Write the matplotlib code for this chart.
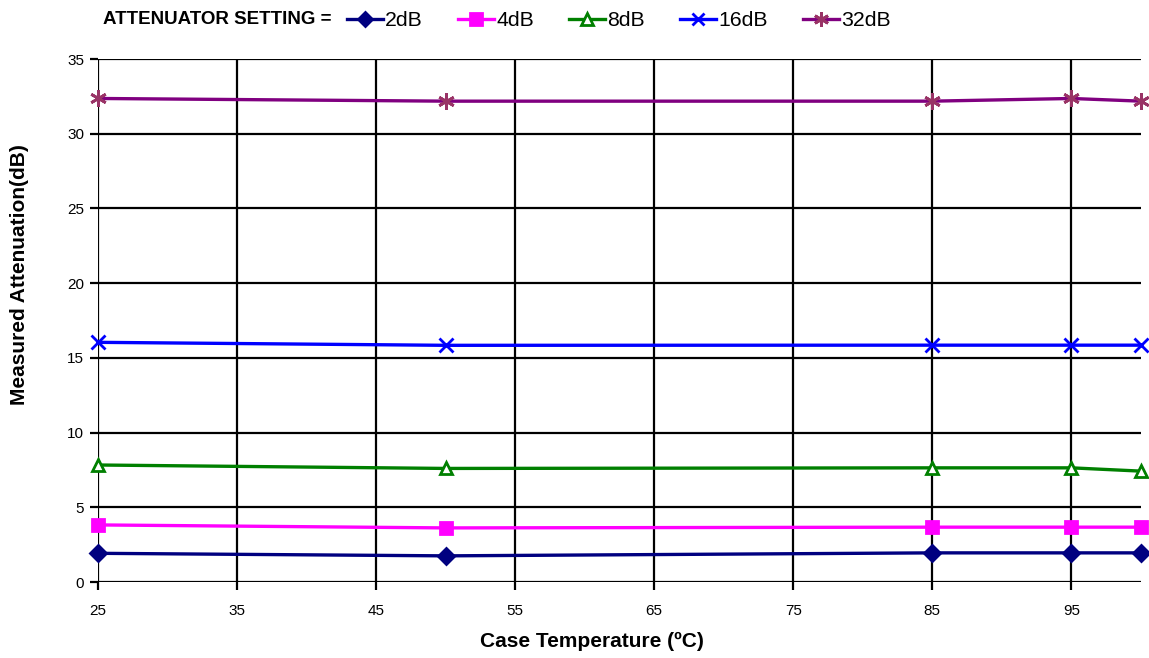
import matplotlib.pyplot as plt
from matplotlib.lines import Line2D

plt.rcParams['font.family'] = ['Liberation Sans', 'DejaVu Sans']

# Case temperature (deg C) and measured attenuation (dB) per attenuator setting
temps = [25, 50, 85, 95, 100]
att_2db = [1.92, 1.75, 1.95, 1.95, 1.95]
att_4db = [3.82, 3.62, 3.67, 3.67, 3.67]
att_8db = [7.83, 7.60, 7.64, 7.64, 7.42]
att_16db = [16.04, 15.84, 15.85, 15.85, 15.85]
att_32db = [32.36, 32.18, 32.18, 32.36, 32.18]

series_labels = ['2dB', '4dB', '8dB', '16dB', '32dB']
x_ticks = [25, 35, 45, 55, 65, 75, 85, 95]
y_ticks = [0, 5, 10, 15, 20, 25, 30, 35]

fig = plt.figure(figsize=(11.49, 6.58), dpi=100)
ax = fig.add_axes([0.0853, 0.1155, 0.9077, 0.7948])

# series styling: (line colour, marker, marker face, marker edge, marker size)
styles = [
    ('#000080', 'D', '#000080', '#000080', 8),
    ('#FF00FF', 's', '#FF00FF', '#FF00FF', 9),
    ('#008000', '^', 'white', '#008000', 9),
    ('#0000FF', 'x', '#0000FF', '#0000FF', 10),
    ('#800080', (6, 2, 0), '#993366', '#993366', 12),
]
data = [att_2db, att_4db, att_8db, att_16db, att_32db]

handles = []
for vals, lab, (col, mk, mfc, mec, ms) in zip(data, series_labels, styles):
    ax.plot(temps, vals, color=col, lw=2.4, marker=mk, markersize=ms,
            markerfacecolor=mfc, markeredgecolor=mec, markeredgewidth=2,
            clip_on=False, zorder=3)
    handles.append(Line2D([], [], color=col, lw=2.4, marker=mk, markersize=ms * 0.9,
                          markerfacecolor=mfc, markeredgecolor=mec,
                          markeredgewidth=2, label=lab))

ax.set_xlim(25, 100)
ax.set_ylim(0, 35)
ax.set_xticks(x_ticks)
ax.set_yticks(y_ticks)
ax.grid(True, color='black', lw=1.6)
ax.set_axisbelow(True)
for s in ax.spines.values():
    s.set_visible(False)
ax.tick_params(direction='out', length=6, width=1.6, color='black',
               labelsize=11, pad=10)
ax.tick_params(axis='y', pad=4)

ax.set_xlabel('Case Temperature (ºC)', fontsize=15, fontweight='bold')
ax.set_ylabel('Measured Attenuation(dB)', fontsize=15, fontweight='bold')
ax.xaxis.set_label_coords(0.4737, -0.095)
ax.yaxis.set_label_coords(-0.066, 0.587)

fig.text(103 / 1149, 1 - 20 / 658, 'ATTENUATOR SETTING =', fontsize=13.5,
         fontweight='bold', va='center', ha='left')
fig.legend(handles=handles, loc='center left', ncol=5, frameon=False,
           bbox_to_anchor=(347 / 1149, 1 - 21 / 658), fontsize=15.3,
           handlelength=1.7, handletextpad=0.1, columnspacing=1.65,
           borderaxespad=0, borderpad=0)

fig.savefig('out.png', dpi=100)
plt.close()
